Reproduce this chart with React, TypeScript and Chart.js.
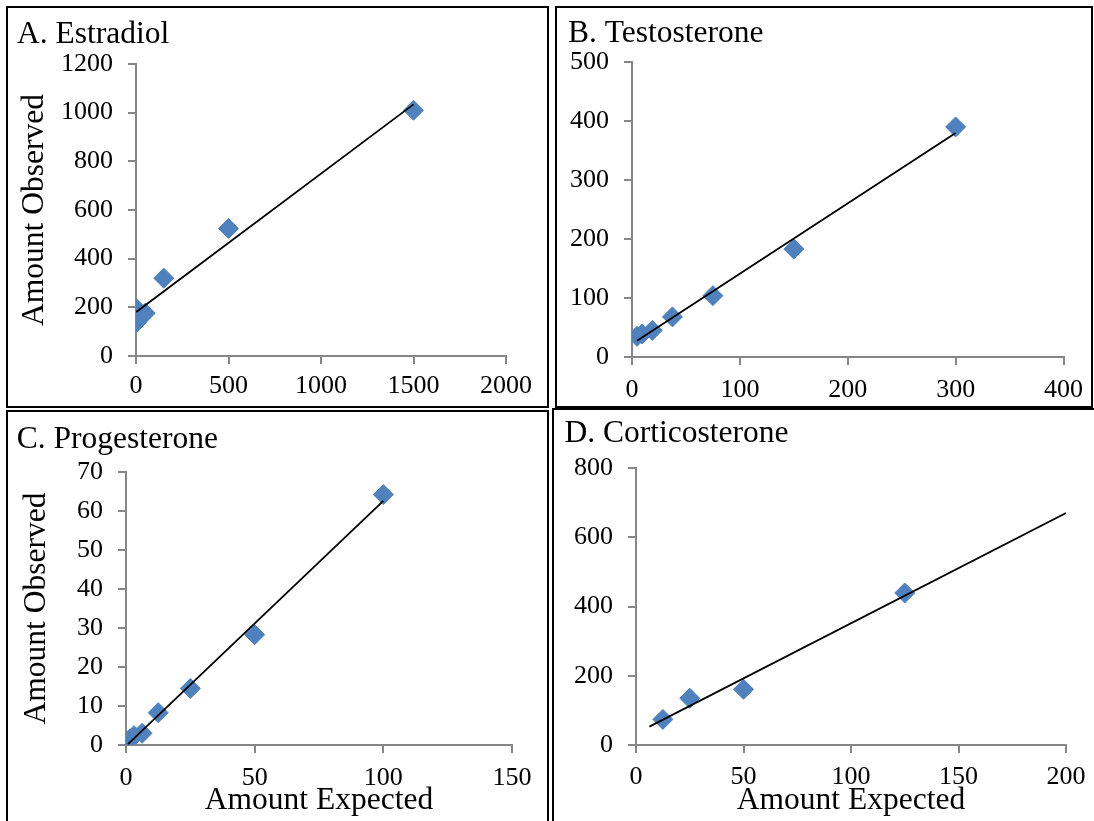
import React, { useEffect, useRef } from "react";
import { Chart, registerables } from "chart.js";

Chart.register(...registerables);

// Estradiol
const estradiolExpected = [1.5, 5, 15, 50, 150, 500, 1500];
const estradiolObserved = [137, 192, 165, 176, 320, 524, 1010];

// Testosterone
const testosteroneExpected = [4.6875, 9.375, 18.75, 37.5, 75, 150, 300];
const testosteroneObserved = [35, 39, 45, 68, 104, 183, 390];

// Progesterone
const progesteroneExpected = [0.78125, 1.5625, 3.125, 6.25, 12.5, 25, 50, 100];
const progesteroneObserved = [0.8, 1.6, 2.4, 3.0, 8.3, 14.5, 28.3, 64.2];

// Corticosterone
const corticosteroneExpected = [12.5, 25, 50, 125];
const corticosteroneObserved = [74, 135, 161, 439];

const panelTitles = ["A. Estradiol", "B. Testosterone", "C. Progesterone", "D. Corticosterone"];
const yAxisTitle = "Amount Observed";
const xAxisTitle = "Amount Expected";

// Axis ranges: [max, step]
const estradiolXRange = [2000, 500];
const estradiolYRange = [1200, 200];
const testosteroneXRange = [400, 100];
const testosteroneYRange = [500, 100];
const progesteroneXRange = [150, 50];
const progesteroneYRange = [70, 10];
const corticosteroneXRange = [200, 50];
const corticosteroneYRange = [800, 200];

// Corticosterone trend line is extended back and forward
const corticosteroneTrendSpan = [6.25, 200];

const SERIF = "'Liberation Serif', 'Times New Roman', Times, serif";
const AXIS_GRAY = "#868686";
const MARKER_BLUE = "#4F81BD";
const TICK_SIZE = 26;
const TITLE_SIZE = 31.5;

type Panel = {
  title: string;
  xs: number[];
  ys: number[];
  xRange: number[];
  yRange: number[];
  trendSpan?: number[];
  showYTitle: boolean;
  showXTitle: boolean;
  box: { left: number; top: number; width: number; height: number };
  area: { left: number; top: number; right: number; bottom: number };
  titleAt: { x: number; y: number };
  xTickPad: number;
  yTitlePad: number;
  xTitlePad: number;
};

const panels: Panel[] = [
  {
    title: panelTitles[0],
    xs: estradiolExpected,
    ys: estradiolObserved,
    xRange: estradiolXRange,
    yRange: estradiolYRange,
    showYTitle: true,
    showXTitle: false,
    box: { left: 6, top: 6, width: 543, height: 402 },
    area: { left: 130, top: 58, right: 500, bottom: 350 },
    titleAt: { x: 11, y: 36.7 },
    xTickPad: 7,
    yTitlePad: 10.1,
    xTitlePad: 0,
  },
  {
    title: panelTitles[1],
    xs: testosteroneExpected,
    ys: testosteroneObserved,
    xRange: testosteroneXRange,
    yRange: testosteroneYRange,
    showYTitle: false,
    showXTitle: false,
    box: { left: 555, top: 6, width: 538, height: 402 },
    area: { left: 77, top: 56, right: 509, bottom: 351 },
    titleAt: { x: 13, y: 35.7 },
    xTickPad: 10,
    yTitlePad: 0,
    xTitlePad: 0,
  },
  {
    title: panelTitles[2],
    xs: progesteroneExpected,
    ys: progesteroneObserved,
    xRange: progesteroneXRange,
    yRange: progesteroneYRange,
    showYTitle: true,
    showXTitle: true,
    box: { left: 6, top: 410, width: 543, height: 413 },
    area: { left: 120, top: 62, right: 506, bottom: 335 },
    titleAt: { x: 10.8, y: 37.7 },
    xTickPad: 10,
    yTitlePad: 11.9,
    xTitlePad: 3.6,
  },
  {
    title: panelTitles[3],
    xs: corticosteroneExpected,
    ys: corticosteroneObserved,
    xRange: corticosteroneXRange,
    yRange: corticosteroneYRange,
    trendSpan: corticosteroneTrendSpan,
    showYTitle: false,
    showXTitle: true,
    box: { left: 552, top: 408, width: 544, height: 415 },
    area: { left: 84, top: 60, right: 514, bottom: 337 },
    titleAt: { x: 12.6, y: 33.7 },
    xTickPad: 8.6,
    yTitlePad: 0,
    xTitlePad: 3.6,
  },
];

// Least-squares straight line through the points
function linearFit(xs: number[], ys: number[]) {
  const n = xs.length;
  const mx = xs.reduce((a, b) => a + b, 0) / n;
  const my = ys.reduce((a, b) => a + b, 0) / n;
  let sxx = 0;
  let sxy = 0;
  for (let i = 0; i < n; i++) {
    sxx += (xs[i] - mx) * (xs[i] - mx);
    sxy += (xs[i] - mx) * (ys[i] - my);
  }
  const slope = sxy / sxx;
  return { slope, intercept: my - slope * mx };
}

function PanelChart({ panel }: { panel: Panel }) {
  const ref = useRef<HTMLCanvasElement>(null);

  useEffect(() => {
    const canvas = ref.current;
    if (!canvas) return;
    const { box, area } = panel;
    const fit = linearFit(panel.xs, panel.ys);
    const from = panel.trendSpan ? panel.trendSpan[0] : Math.min(...panel.xs);
    const to = panel.trendSpan ? panel.trendSpan[1] : Math.max(...panel.xs);
    const xAxisHeight = box.height - area.bottom;

    const panelTitle = {
      id: "panelTitle",
      afterDraw(chart: any) {
        const ctx = chart.ctx;
        ctx.save();
        ctx.font = `${TITLE_SIZE}px ${SERIF}`;
        ctx.fillStyle = "#000";
        ctx.textAlign = "left";
        ctx.textBaseline = "alphabetic";
        ctx.fillText(panel.title, panel.titleAt.x, panel.titleAt.y);
        ctx.restore();
      },
    };

    const tickFont = { family: SERIF, size: TICK_SIZE };
    const titleFont = { family: SERIF, size: TITLE_SIZE };
    const grid = {
      display: true,
      drawOnChartArea: false,
      drawTicks: true,
      tickLength: 8,
      color: AXIS_GRAY,
      lineWidth: 2,
    };
    const border = { display: true, color: AXIS_GRAY, width: 2 };

    const chart = new Chart(canvas, {
      type: "scatter",
      data: {
        datasets: [
          {
            data: [
              { x: from, y: fit.intercept + fit.slope * from },
              { x: to, y: fit.intercept + fit.slope * to },
            ],
            showLine: true,
            borderColor: "#000",
            borderWidth: 1.8,
            pointRadius: 0,
            order: 0,
          },
          {
            data: panel.xs.map((x, i) => ({ x, y: panel.ys[i] })),
            pointStyle: "rectRot",
            pointRadius: 10,
            backgroundColor: MARKER_BLUE,
            borderColor: MARKER_BLUE,
            borderWidth: 1,
            order: 1,
          },
        ],
      },
      options: {
        responsive: false,
        animation: false,
        events: [],
        layout: {
          padding: {
            left: 0,
            top: area.top,
            right: box.width - area.right,
            bottom: 0,
          },
        },
        plugins: {
          legend: { display: false },
          tooltip: { enabled: false },
          title: { display: false },
        },
        scales: {
          x: {
            type: "linear",
            position: "bottom",
            min: 0,
            max: panel.xRange[0],
            ticks: {
              stepSize: panel.xRange[1],
              autoSkip: false,
              maxRotation: 0,
              font: tickFont,
              color: "#000",
              padding: panel.xTickPad,
              callback: (v: any) => String(v),
            },
            grid,
            border,
            title: {
              display: panel.showXTitle,
              text: xAxisTitle,
              font: titleFont,
              color: "#000",
              padding: { top: 0, bottom: panel.xTitlePad },
            },
            afterFit: (scale: any) => {
              scale.height = xAxisHeight;
            },
          },
          y: {
            type: "linear",
            position: "left",
            min: 0,
            max: panel.yRange[0],
            ticks: {
              stepSize: panel.yRange[1],
              autoSkip: false,
              font: tickFont,
              color: "#000",
              padding: 15,
              callback: (v: any) => String(v),
            },
            grid,
            border,
            title: {
              display: panel.showYTitle,
              text: yAxisTitle,
              font: titleFont,
              color: "#000",
              padding: { top: panel.yTitlePad, bottom: 0 },
            },
            afterFit: (scale: any) => {
              scale.width = area.left;
            },
          },
        },
      } as any,
      plugins: [panelTitle],
    });

    return () => chart.destroy();
  }, [panel]);

  return (
    <canvas
      ref={ref}
      width={panel.box.width}
      height={panel.box.height}
      style={{
        position: "absolute",
        left: panel.box.left,
        top: panel.box.top,
        width: panel.box.width,
        height: panel.box.height,
      }}
    />
  );
}

export default function App() {
  return (
    <div
      style={{
        position: "absolute",
        left: 0,
        top: 0,
        width: 1094,
        height: 821,
        overflow: "hidden",
        background: "#fff",
      }}
    >
      {panels.map((p) => (
        <React.Fragment key={p.title}>
          <PanelChart panel={p} />
          <div
            style={{
              position: "absolute",
              left: p.box.left,
              top: p.box.top,
              width: p.box.width,
              height: p.box.height,
              border: "2px solid #000",
              boxSizing: "border-box",
              pointerEvents: "none",
            }}
          />
        </React.Fragment>
      ))}
    </div>
  );
}
